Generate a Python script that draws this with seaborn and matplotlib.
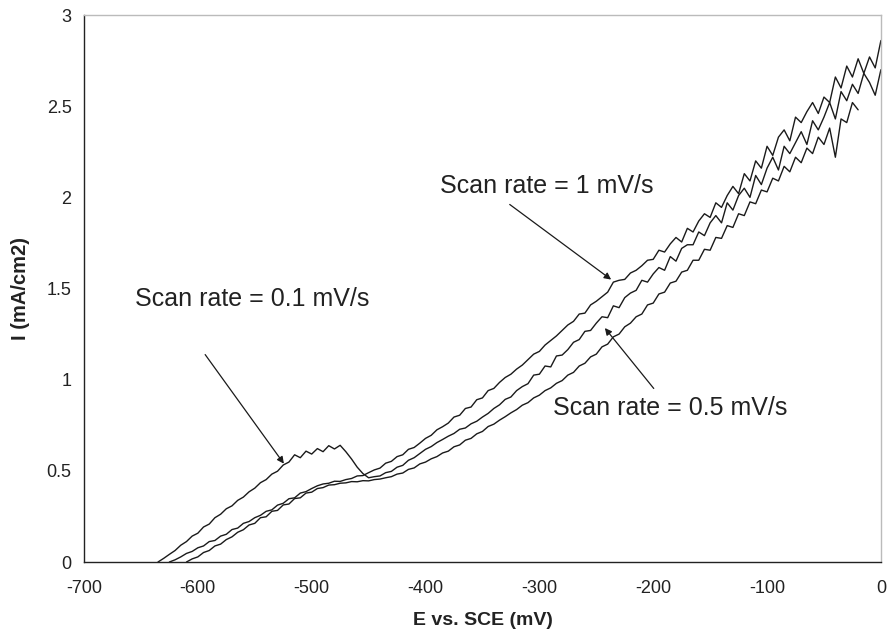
import numpy as np
import pandas as pd
import matplotlib
matplotlib.use("Agg")
import matplotlib.pyplot as plt
import seaborn as sns

# Potential grid (mV vs SCE)
E_MV = [-635, -630, -625, -620, -615, -610, -605, -600, -595, -590,
        -585, -580, -575, -570, -565, -560, -555, -550, -545, -540,
        -535, -530, -525, -520, -515, -510, -505, -500, -495, -490,
        -485, -480, -475, -470, -465, -460, -455, -450, -445, -440,
        -435, -430, -425, -420, -415, -410, -405, -400, -395, -390,
        -385, -380, -375, -370, -365, -360, -355, -350, -345, -340,
        -335, -330, -325, -320, -315, -310, -305, -300, -295, -290,
        -285, -280, -275, -270, -265, -260, -255, -250, -245, -240,
        -235, -230, -225, -220, -215, -210, -205, -200, -195, -190,
        -185, -180, -175, -170, -165, -160, -155, -150, -145, -140,
        -135, -130, -125, -120, -115, -110, -105, -100, -95, -90,
        -85, -80, -75, -70, -65, -60, -55, -50, -45, -40,
        -35, -30, -25, -20, -15, -10, -5, 0]

nan = np.nan

# Scan rate = 0.1 mV/s (curve with the active peak)
I_01 = [0.00, 0.02, 0.042, 0.063, 0.092, 0.112, 0.142, 0.158, 0.192, 0.208,
        0.243, 0.262, 0.292, 0.308, 0.338, 0.356, 0.385, 0.405, 0.435, 0.452,
        0.482, 0.498, 0.532, 0.548, 0.588, 0.572, 0.608, 0.592, 0.622, 0.605,
        0.638, 0.62, 0.64, 0.605, 0.565, 0.52, 0.485, 0.462, 0.468, 0.472,
        0.49, 0.497, 0.52, 0.53, 0.558, 0.572, 0.595, 0.618, 0.633, 0.655,
        0.672, 0.69, 0.705, 0.728, 0.735, 0.758, 0.772, 0.795, 0.815, 0.842,
        0.862, 0.892, 0.905, 0.94, 0.962, 0.978, 1.025, 1.03, 1.075, 1.07,
        1.13, 1.135, 1.165, 1.205, 1.22, 1.265, 1.27, 1.31, 1.345, 1.34,
        1.405, 1.395, 1.45, 1.475, 1.49, 1.545, 1.535, 1.58, 1.615, 1.60,
        1.675, 1.65, 1.72, 1.74, 1.74, 1.81, 1.79, 1.86, 1.90, 1.86,
        1.97, 1.93, 2.01, 2.05, 2.00, 2.12, 2.07, 2.16, 2.22, 2.15,
        2.28, 2.24, 2.30, 2.36, 2.29, 2.42, 2.37, 2.44, 2.52, 2.43,
        2.58, 2.53, 2.62, 2.57, 2.68, 2.63, 2.56, 2.70]

# Scan rate = 1 mV/s
I_1 = [nan, nan, 0.00, 0.012, 0.028, 0.047, 0.058, 0.078, 0.088, 0.112,
       0.118, 0.142, 0.152, 0.178, 0.186, 0.212, 0.222, 0.243, 0.256, 0.278,
       0.286, 0.312, 0.322, 0.347, 0.352, 0.378, 0.386, 0.403, 0.418, 0.428,
       0.432, 0.443, 0.442, 0.452, 0.458, 0.472, 0.474, 0.49, 0.505, 0.515,
       0.542, 0.552, 0.578, 0.588, 0.618, 0.628, 0.652, 0.678, 0.695, 0.725,
       0.742, 0.762, 0.795, 0.805, 0.842, 0.85, 0.89, 0.90, 0.94, 0.952,
       0.985, 1.012, 1.03, 1.058, 1.08, 1.11, 1.14, 1.155, 1.19, 1.215,
       1.24, 1.27, 1.30, 1.32, 1.36, 1.365, 1.41, 1.43, 1.455, 1.48,
       1.535, 1.545, 1.55, 1.585, 1.60, 1.625, 1.655, 1.66, 1.71, 1.70,
       1.745, 1.78, 1.755, 1.83, 1.81, 1.87, 1.91, 1.89, 1.97, 1.945,
       2.01, 2.06, 2.02, 2.13, 2.09, 2.20, 2.16, 2.28, 2.23, 2.33,
       2.37, 2.31, 2.44, 2.41, 2.47, 2.52, 2.46, 2.55, 2.52, 2.66,
       2.60, 2.72, 2.66, 2.76, 2.68, 2.77, 2.71, 2.86]

# Scan rate = 0.5 mV/s
I_05 = [nan, nan, nan, nan, nan, 0.00, 0.017, 0.028, 0.052, 0.063,
        0.088, 0.098, 0.123, 0.138, 0.163, 0.177, 0.203, 0.212, 0.243, 0.248,
        0.278, 0.283, 0.313, 0.318, 0.348, 0.352, 0.378, 0.383, 0.403, 0.408,
        0.422, 0.424, 0.432, 0.434, 0.441, 0.44, 0.446, 0.445, 0.452, 0.455,
        0.462, 0.468, 0.482, 0.488, 0.508, 0.516, 0.538, 0.548, 0.566, 0.578,
        0.598, 0.608, 0.632, 0.642, 0.668, 0.678, 0.703, 0.716, 0.743, 0.756,
        0.778, 0.797, 0.818, 0.836, 0.86, 0.874, 0.90, 0.915, 0.94, 0.955,
        0.98, 0.995, 1.025, 1.04, 1.075, 1.09, 1.125, 1.14, 1.18, 1.195,
        1.235, 1.25, 1.29, 1.31, 1.345, 1.36, 1.41, 1.42, 1.47, 1.48,
        1.53, 1.54, 1.59, 1.60, 1.655, 1.655, 1.715, 1.71, 1.78, 1.775,
        1.845, 1.835, 1.91, 1.90, 1.975, 1.965, 2.04, 2.03, 2.105, 2.09,
        2.17, 2.14, 2.22, 2.19, 2.27, 2.24, 2.33, 2.29, 2.38, 2.22,
        2.43, 2.41, 2.52, 2.48, nan, nan, nan, nan]

SERIES = ["0.1 mV/s", "1 mV/s", "0.5 mV/s"]
X_TICKS = [-700, -600, -500, -400, -300, -200, -100, 0]
Y_TICKS = [0, 0.5, 1, 1.5, 2, 2.5, 3]
Y_TICKLABELS = ["0", "0.5", "1", "1.5", "2", "2.5", "3"]

df = pd.DataFrame({"E": E_MV, SERIES[0]: I_01, SERIES[1]: I_1, SERIES[2]: I_05})
long = df.melt(id_vars="E", var_name="rate", value_name="I").dropna()

sns.set_style("white")
plt.rcParams["font.family"] = ["Liberation Sans", "DejaVu Sans"]

fig = plt.figure(figsize=(8.88, 6.39), dpi=100)
ax = fig.add_axes([0.0946, 0.1205, 0.8974, 0.856])

sns.lineplot(data=long, x="E", y="I", hue="rate", units="rate", estimator=None,
             sort=False, palette=["#1a1a1a"] * 3, linewidth=1.0, legend=False, ax=ax)

ax.set_xlim(-700, 0)
ax.set_ylim(0, 3)
ax.set_xticks(X_TICKS)
ax.set_xticklabels([str(t) for t in X_TICKS])
ax.set_yticks(Y_TICKS)
ax.set_yticklabels(Y_TICKLABELS)
ax.tick_params(axis="both", direction="out", length=4, width=0.8, color="#777777",
               labelsize=13, labelcolor="#222222")
ax.tick_params(axis="x", pad=9)
ax.tick_params(axis="y", pad=5)

for side in ["left", "bottom"]:
    ax.spines[side].set_color("#222222")
    ax.spines[side].set_linewidth(1.0)
for side in ["top", "right"]:
    ax.spines[side].set_color("#bbbbbb")
    ax.spines[side].set_linewidth(1.0)
    ax.spines[side].set_visible(True)

ax.set_xlabel("E vs. SCE (mV)", fontsize=14, fontweight="bold", color="#222222", labelpad=11)
ax.set_ylabel("I (mA/cm2)", fontsize=14.5, fontweight="bold", color="#222222", labelpad=12)

arrow = dict(arrowstyle="-|>", color="#1a1a1a", lw=0.9, mutation_scale=10)
ax.annotate("Scan rate = 1 mV/s", xy=(-235, 1.54), xytext=(-387, 2.06),
            fontsize=18, color="#222222", va="center", ha="left")
ax.annotate("", xy=(-235, 1.54), xytext=(-328, 1.97), arrowprops=arrow)
ax.annotate("Scan rate = 0.1 mV/s", xy=(-523, 0.527), xytext=(-655, 1.44),
            fontsize=18, color="#222222", va="center", ha="left")
ax.annotate("", xy=(-523, 0.527), xytext=(-595, 1.15), arrowprops=arrow)
ax.annotate("Scan rate = 0.5 mV/s", xy=(-244, 1.295), xytext=(-288, 0.845),
            fontsize=18, color="#222222", va="center", ha="left")
ax.annotate("", xy=(-244, 1.295), xytext=(-198, 0.94), arrowprops=arrow)

fig.savefig("out.png", dpi=100)
